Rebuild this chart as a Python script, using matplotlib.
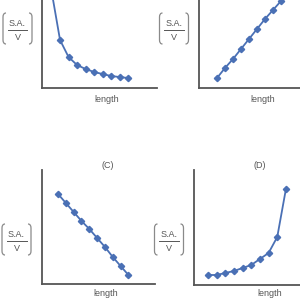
import matplotlib
matplotlib.use("Agg")
from matplotlib import pyplot as plt
from matplotlib.lines import Line2D
from matplotlib.path import Path
from matplotlib.patches import PathPatch

# x positions (same for all four panels)
length = [1, 2, 3, 4, 5, 6, 7, 8, 9, 10]
# S.A./V values
sav_a = [97, 48, 31, 23, 19, 16, 14, 12, 11, 10]
sav_b = [10, 20, 29, 39, 49, 59, 69, 78, 87, 97]
sav_c = [90, 81, 72, 63, 55, 46, 37, 27, 18, 9]
sav_d = [10, 10, 12, 14, 17, 20, 26, 32, 48, 96]
titles = ["", "", "(C)", "(D)"]

W, H = 300, 303
fig = plt.figure(figsize=(3.0, 3.03), dpi=100)
fig.patch.set_facecolor("white")

line_color = "#4a70b5"
axis_color = "#555555"
text_color = "#555555"
plt.rcParams["font.family"] = ["Liberation Sans", "DejaVu Sans"]


def px_axes(l, t, r, b):
    # axes placed in pixel coordinates (top-left origin)
    return fig.add_axes([l / W, 1 - b / H, (r - l) / W, (b - t) / H])


def bracket(x, top, bot, side):
    # rounded bracket drawn in pixel coords, side=+1 opens right, -1 opens left
    d = 3 * side
    verts = [(x + d, top), (x, top), (x, top + 4), (x, bot - 4), (x, bot), (x + d, bot)]
    codes = [Path.MOVETO, Path.CURVE3, Path.CURVE3, Path.LINETO, Path.CURVE3, Path.CURVE3]
    verts = [(vx / W, 1 - vy / H) for vx, vy in verts]
    fig.add_artist(PathPatch(Path(verts, codes), fill=False, edgecolor="#8a8a8a",
                             lw=0.9, transform=fig.transFigure))


def sav_label(cx, cy):
    fig.text(cx / W, 1 - (cy - 6.5) / H, "S.A.", ha="center", va="center",
             fontsize=6.5, color=text_color)
    fig.text(cx / W, 1 - (cy + 7.5) / H, "V", ha="center", va="center",
             fontsize=6.5, color=text_color)
    fig.add_artist(Line2D([(cx - 10) / W, (cx + 10) / W], [1 - cy / H, 1 - cy / H],
                          color=text_color, lw=0.7))
    bracket(cx - 14.5, cy - 17, cy + 14, 1)
    bracket(cx + 14.5, cy - 17, cy + 14, -1)


# (box in px, xlim, ylim, data, length label pos, sav label pos, title pos)
panels = [
    ((42, 0, 157, 88), (-0.12, 13.4), (0, 88), sav_a, (107, 100), (17.5, 30), None),
    ((199, 0, 305, 88), (-1.25, 12.0), (0, 88), sav_b, (263, 100), (174, 30), None),
    ((42, 170, 155, 284), (-1.05, 13.4), (0, 114), sav_c, (106, 294), (16.5, 241), (108, 166)),
    ((194, 170, 305, 285), (-0.6, 12.2), (0, 115), sav_d, (270, 294), (169, 241), (260, 166)),
]

for i, (box, xl, yl, yv, lpos, spos, tpos) in enumerate(panels):
    ax = px_axes(*box)
    ax.plot(length, yv, color=line_color, lw=1.3, marker="D", markersize=3.2)
    ax.set_xlim(xl)
    ax.set_ylim(yl)
    ax.set_xticks([])
    ax.set_yticks([])
    ax.spines["top"].set_visible(False)
    ax.spines["right"].set_visible(False)
    for s in ["left", "bottom"]:
        ax.spines[s].set_color(axis_color)
        ax.spines[s].set_linewidth(1.3)
    ax.patch.set_alpha(0)
    fig.text(lpos[0] / W, 1 - lpos[1] / H, "length", ha="center", va="center",
             fontsize=6.5, color=text_color)
    sav_label(*spos)
    if tpos is not None:
        fig.text(tpos[0] / W, 1 - tpos[1] / H, titles[i], ha="center", va="center",
                 fontsize=6.5, color=text_color)

fig.savefig("out.png", dpi=100)
